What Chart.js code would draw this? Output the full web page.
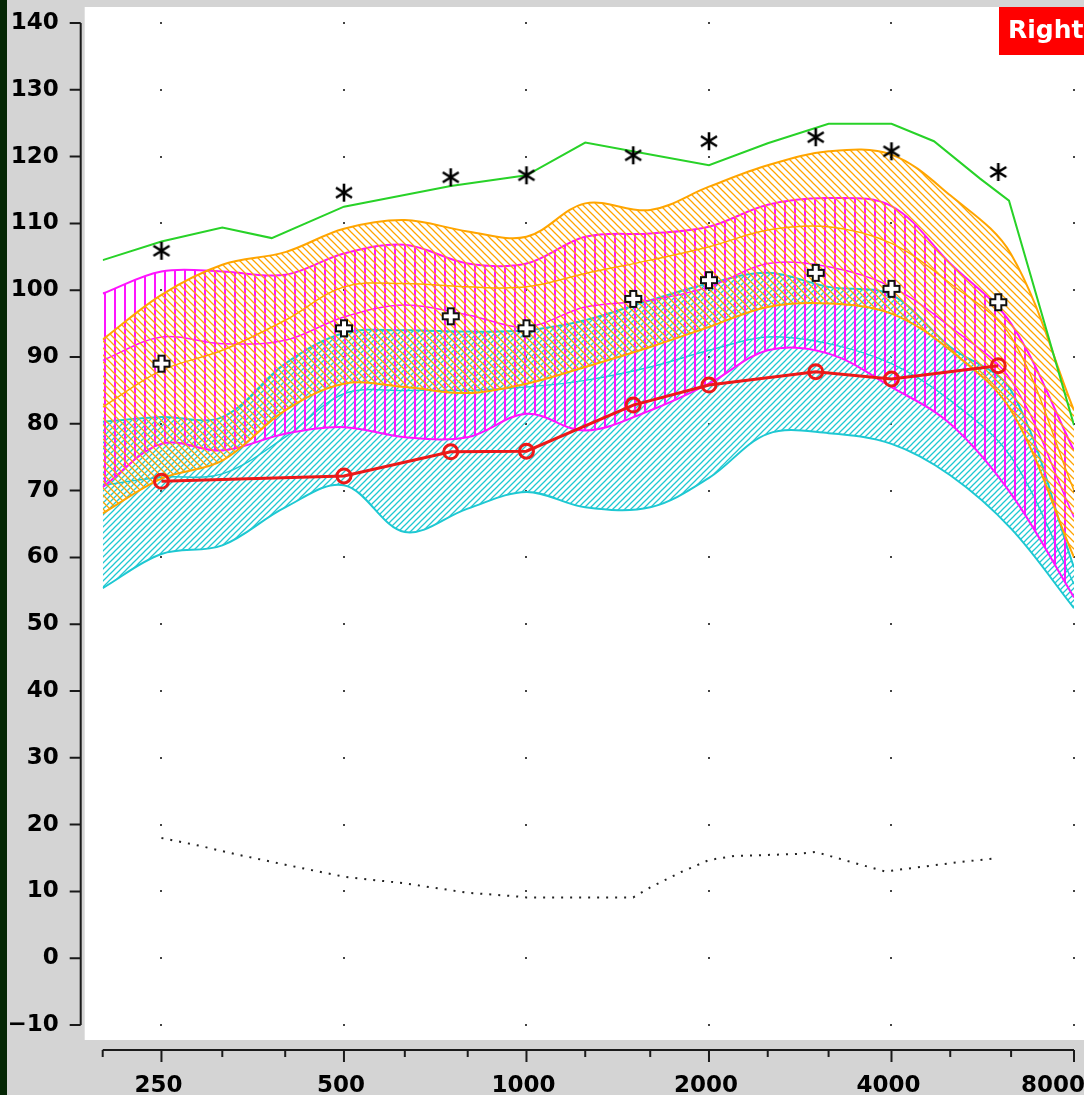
<!DOCTYPE html>
<html>
<head>
<meta charset="utf-8">
<script src="https://cdn.jsdelivr.net/npm/chart.js@4.4.0/dist/chart.umd.min.js"></script>
<style>
html, body { margin: 0; padding: 0; background: #d4d4d4; }
</style>
</head>
<body>
<canvas id="myChart" width="1084" height="1095"></canvas>
<script>
// frequencies used for the three speech bands
const bandFreqs = [200, 250, 315, 400, 500, 630, 800, 1000, 1250, 1600, 2000, 2500, 3150, 4000, 5000, 6300, 8000];

// loud speech (orange)
const loudUpper = [92.6, 99.3, 103.8, 105.7, 109.2, 110.5, 108.8, 108, 113, 112, 115.5, 118.7, 120.8, 120.3, 114.2, 105.4, 82];
const loudMid   = [82.5, 88, 91, 95.5, 100.5, 101, 100.5, 100.5, 102.5, 104.5, 106.5, 109, 109.5, 107, 101, 93, 70];
const loudLower = [66.6, 71.8, 74.5, 82, 86, 85.5, 84.6, 86, 88.5, 91.5, 94.5, 97.5, 98, 96.5, 91, 82, 60];

// average speech (magenta)
const avgUpper = [99.5, 102.8, 102.8, 102.3, 105.5, 106.8, 104, 104, 108, 108.5, 109.5, 112.8, 113.8, 112.6, 104, 95, 76];
const avgMid   = [89.5, 93, 92, 92.5, 96, 97.8, 96.3, 94.5, 97.5, 98.5, 100.5, 104, 103.5, 100.5, 94.5, 86.5, 66];
const avgLower = [70.5, 77, 76, 78.5, 79.5, 78, 78, 81.5, 79, 82, 86, 91, 90.5, 85.5, 80, 69.5, 54];

// soft speech (cyan)
const softUpper = [80.3, 81, 81, 89, 93.6, 94, 93.8, 94, 95.5, 98.5, 101, 102.6, 100.5, 99.3, 91.5, 85, 58.5];
const softMid   = [70.8, 72, 72.5, 78, 84.5, 85, 85, 85.5, 86.5, 88.5, 91, 93, 92, 89, 83.5, 75, 56];
const softLower = [55.4, 60.5, 61.8, 67.5, 70.8, 63.8, 67.3, 69.8, 67.5, 67.5, 71.9, 78.5, 78.6, 77, 72.3, 64.3, 52.4];

// measured points
const testFreqs = [250, 500, 750, 1000, 1500, 2000, 3000, 4000, 6000];
const uclLevels = [105.9, 114.6, 116.9, 117.2, 120.2, 122.3, 122.9, 120.8, 117.7];
const targetLevels = [89, 94.3, 96.1, 94.3, 98.7, 101.5, 102.6, 100.2, 98.2];
const aidedLevels = [71.4, 72.2, 75.8, 75.9, 82.8, 85.8, 87.8, 86.7, 88.7];

// green limit line
const limitFreqs = [200, 250, 315, 380, 500, 750, 1000, 1250, 1600, 2000, 2500, 3150, 4000, 4700, 5600, 6250, 8000];
const limitLevels = [104.5, 107.3, 109.4, 107.8, 112.5, 115.6, 117.2, 122.1, 120.3, 118.7, 122, 124.9, 124.9, 122.3, 116.7, 113.4, 79.8];

// dotted threshold line
const dotFreqs = [250, 290, 330, 400, 500, 630, 800, 950, 1000, 1500, 1600, 1800, 2000, 2200, 2800, 3000, 3400, 3900, 4000, 4500, 5200, 6000];
const dotLevels = [18, 16.8, 15.6, 14, 12.2, 11.2, 9.8, 9.3, 9.1, 9.1, 10.6, 12.9, 14.7, 15.3, 15.6, 15.9, 14.5, 13, 13.1, 13.7, 14.4, 15];

// axes
const freqTicks = [200, 250, 315, 400, 500, 630, 800, 1000, 1250, 1600, 2000, 2500, 3150, 4000, 5000, 6300, 8000];
const freqLabels = [250, 500, 1000, 2000, 4000, 8000];
const levelTicks = [-10, 0, 10, 20, 30, 40, 50, 60, 70, 80, 90, 100, 110, 120, 130, 140];

const myChart = document.getElementById("myChart");
const ctx = myChart.getContext("2d");

const ORANGE = 'rgb(255,165,0)';
const MAGENTA = 'rgb(255,20,255)';
const CYAN = 'rgb(30,200,210)';
const AXIS_FONT = 'bold 23px "DejaVu Sans"';

function pts(xs, ys) {
    return xs.map((x, i) => ({x: x, y: ys[i]}));
}

function hatch(color, size, kind) {
    const c = document.createElement('canvas');
    c.width = size; c.height = size;
    const g = c.getContext('2d');
    g.strokeStyle = color;
    g.beginPath();
    if (kind === 'vertical') {
        g.lineWidth = 2;
        g.moveTo(5, 0); g.lineTo(5, size);
    } else if (kind === 'up') {
        g.lineWidth = 1.25;
        g.moveTo(0, size); g.lineTo(size, 0);
        g.moveTo(-2, 2); g.lineTo(2, -2);
        g.moveTo(size - 2, size + 2); g.lineTo(size + 2, size - 2);
    } else {
        g.lineWidth = 1.25;
        g.moveTo(0, 0); g.lineTo(size, size);
        g.moveTo(size - 2, -2); g.lineTo(size + 2, 2);
        g.moveTo(-2, size - 2); g.lineTo(2, size + 2);
    }
    g.stroke();
    return ctx.createPattern(c, 'repeat');
}

function asteriskImg() {
    const c = document.createElement('canvas');
    c.width = 22; c.height = 22;
    const g = c.getContext('2d');
    g.strokeStyle = '#000';
    g.lineWidth = 2.6;
    g.translate(11, 11);
    g.beginPath();
    g.moveTo(0, -9); g.lineTo(0, 9);
    g.moveTo(-8, -5); g.lineTo(8, 5);
    g.moveTo(-8, 5); g.lineTo(8, -5);
    g.stroke();
    return c;
}

function crossImg() {
    const c = document.createElement('canvas');
    c.width = 22; c.height = 22;
    const g = c.getContext('2d');
    g.translate(11, 11);
    const a = 3, L = 8;
    g.beginPath();
    g.moveTo(-a, -L); g.lineTo(a, -L); g.lineTo(a, -a); g.lineTo(L, -a); g.lineTo(L, a);
    g.lineTo(a, a); g.lineTo(a, L); g.lineTo(-a, L); g.lineTo(-a, a); g.lineTo(-L, a);
    g.lineTo(-L, -a); g.lineTo(-a, -a); g.closePath();
    g.fillStyle = '#fff';
    g.fill();
    g.strokeStyle = '#111';
    g.lineWidth = 2;
    g.stroke();
    return c;
}

const loudFill = hatch(ORANGE, 7, 'down');
const avgFill = hatch(MAGENTA, 10, 'vertical');
const softFill = hatch(CYAN, 6, 'up');

function bandLine(data, color, width, fill) {
    return {
        data: pts(bandFreqs, data),
        borderColor: color,
        borderWidth: width,
        pointRadius: 0,
        tension: 0.35,
        fill: fill === undefined ? false : fill
    };
}

const frame = {
    id: 'frame',
    beforeDraw(chart) {
        const c = chart.ctx, a = chart.chartArea;
        c.save();
        c.fillStyle = '#d4d4d4';
        c.fillRect(0, 0, chart.width, chart.height);
        c.fillStyle = '#042604';
        c.fillRect(0, 0, 7, chart.height);
        c.fillStyle = '#ffffff';
        c.fillRect(a.left - 18, a.top - 16, chart.width, a.bottom - a.top + 31);
        c.restore();
    },
    beforeDatasetsDraw(chart) {
        const c = chart.ctx, xs = chart.scales.x, ys = chart.scales.y;
        c.save();
        c.fillStyle = '#444';
        freqLabels.forEach(f => {
            levelTicks.forEach(v => {
                c.fillRect(Math.round(xs.getPixelForValue(f)) - 1, Math.round(ys.getPixelForValue(v)) - 1, 2, 2);
            });
        });
        c.restore();
    },
    afterDraw(chart) {
        const c = chart.ctx, a = chart.chartArea, xs = chart.scales.x, ys = chart.scales.y;
        c.save();
        c.strokeStyle = '#1a1a1a';
        c.lineWidth = 2;
        // y axis
        const ax = a.left - 22;
        c.beginPath();
        c.moveTo(ax, ys.getPixelForValue(140));
        c.lineTo(ax, ys.getPixelForValue(-10));
        levelTicks.forEach(v => {
            const py = ys.getPixelForValue(v);
            c.moveTo(ax - 11, py); c.lineTo(ax, py);
        });
        // x axis
        const ay = a.bottom + 25;
        c.moveTo(xs.getPixelForValue(200), ay);
        c.lineTo(xs.getPixelForValue(8000), ay);
        freqTicks.forEach(f => {
            const px = xs.getPixelForValue(f);
            c.moveTo(px, ay);
            c.lineTo(px, ay + (freqLabels.includes(f) ? 12 : 7));
        });
        c.stroke();
        // frequency labels, kept inside the canvas at the right end
        c.fillStyle = '#000';
        c.font = AXIS_FONT;
        c.textAlign = 'center';
        c.textBaseline = 'middle';
        freqLabels.forEach(f => {
            const label = String(f);
            const w = c.measureText(label).width;
            const px = Math.min(xs.getPixelForValue(f) - 3, chart.width - w / 2 + 1);
            c.fillText(label, px, ay + 36);
        });
        // ear label
        c.fillStyle = '#ff0000';
        c.fillRect(999, 7, 85, 48);
        c.fillStyle = '#ffffff';
        c.font = 'bold 25px "DejaVu Sans"';
        c.textAlign = 'left';
        c.fillText('Right', 1008, 31);
        c.restore();
    }
};

let hearingChart = new Chart(ctx, {
    type: 'line',
    data: {
        datasets: [
            { // 0 asterisks
                data: pts(testFreqs, uclLevels),
                showLine: false,
                pointStyle: asteriskImg(),
                pointRadius: 9
            },
            { // 1 crosses
                data: pts(testFreqs, targetLevels),
                showLine: false,
                pointStyle: crossImg(),
                pointRadius: 8
            },
            { // 2 aided
                data: pts(testFreqs, aidedLevels),
                borderColor: 'rgb(235,25,25)',
                borderWidth: 3,
                pointStyle: 'circle',
                pointRadius: 7,
                pointBorderWidth: 3,
                pointBorderColor: 'rgb(235,25,25)',
                pointBackgroundColor: 'rgba(255,255,255,0)',
                tension: 0
            },
            { // 3 green
                data: pts(limitFreqs, limitLevels),
                borderColor: 'rgb(40,210,40)',
                borderWidth: 2,
                pointRadius: 0,
                tension: 0
            },
            { // 4 dotted
                data: pts(dotFreqs, dotLevels),
                borderColor: '#222',
                borderWidth: 2,
                borderDash: [2, 7],
                pointRadius: 0,
                tension: 0
            },
            bandLine(loudUpper, ORANGE, 2, {target: 7, above: loudFill, below: loudFill}),
            bandLine(loudMid, ORANGE, 1.5),
            bandLine(loudLower, ORANGE, 2),
            bandLine(avgUpper, MAGENTA, 2, {target: 10, above: avgFill, below: avgFill}),
            bandLine(avgMid, MAGENTA, 1.5),
            bandLine(avgLower, MAGENTA, 2),
            bandLine(softUpper, CYAN, 2, {target: 13, above: softFill, below: softFill}),
            bandLine(softMid, CYAN, 1.5),
            bandLine(softLower, CYAN, 2)
        ]
    },
    options: {
        responsive: false,
        animation: false,
        devicePixelRatio: 1,
        layout: { padding: { top: 23, right: 9.4, bottom: 0, left: 0 } },
        plugins: {
            legend: { display: false },
            tooltip: { enabled: false }
        },
        scales: {
            x: {
                type: 'logarithmic',
                min: 200,
                max: 8000,
                afterBuildTicks: s => { s.ticks = freqTicks.map(v => ({value: v})); },
                afterFit: s => { s.height = 70; s.paddingLeft = 0; s.paddingRight = 0; },
                grid: { display: false, drawTicks: false },
                border: { display: false },
                ticks: { display: false }
            },
            y: {
                min: -10,
                max: 140,
                afterBuildTicks: s => { s.ticks = levelTicks.map(v => ({value: v})); },
                afterFit: s => { s.width = 102.7; s.paddingTop = 0; s.paddingBottom = 0; },
                grid: { display: false, drawTicks: false },
                border: { display: false },
                ticks: {
                    padding: 44,
                    color: '#000',
                    font: { family: 'DejaVu Sans', size: 23, weight: 'bold' },
                    callback: v => v < 0 ? '\u2212' + Math.abs(v) : String(v)
                }
            }
        }
    },
    plugins: [frame]
});
</script>
</body>
</html>
